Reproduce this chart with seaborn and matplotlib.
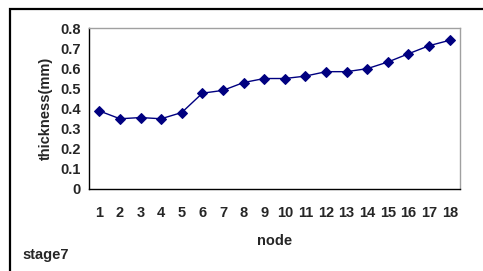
import numpy as np
import pandas as pd
import matplotlib
matplotlib.use("Agg")
import matplotlib.pyplot as plt
import seaborn as sns
from matplotlib.patches import Rectangle

# values
nodes = [str(i) for i in range(1, 19)]
thickness = [0.388, 0.349, 0.355, 0.349, 0.380, 0.476, 0.490, 0.529, 0.549,
             0.549, 0.561, 0.583, 0.583, 0.598, 0.631, 0.672, 0.712, 0.739]
yticks = [0, 0.1, 0.2, 0.3, 0.4, 0.5, 0.6, 0.7, 0.8]
ytick_labels = ["0", "0.1", "0.2", "0.3", "0.4", "0.5", "0.6", "0.7", "0.8"]

data = pd.DataFrame({"node": nodes, "thickness": thickness})

sns.set_style("white")
plt.rcParams["font.family"] = ["Liberation Sans", "DejaVu Sans"]
plt.rcParams["font.weight"] = "bold"
fs = 10.5

fig = plt.figure(figsize=(4.83, 2.71), dpi=100)
ax = fig.add_axes([89 / 483, 1 - 189 / 271, (460 - 89) / 483, (189 - 28) / 271])

sns.lineplot(data=data, x="node", y="thickness", ax=ax, sort=False,
             color="#000080", linewidth=1.0, marker="D", markersize=5.5,
             markeredgecolor="#000080", markerfacecolor="#000080")

ax.set_xlim(-0.5, 17.5)
ax.set_ylim(0, 0.8)
ax.set_yticks(yticks)
ax.set_yticklabels(ytick_labels)

# category ticks sit between the points
ax.set_xticks(np.arange(-0.5, 18, 1), minor=False)
ax.set_xticklabels([])
ax.set_xticks(np.arange(0, 18), minor=True)
ax.set_xticklabels(nodes, minor=True)
ax.tick_params(axis="x", which="major", direction="out", length=4, width=0.8, color="black")
ax.tick_params(axis="x", which="minor", length=0, pad=12, labelsize=fs)
ax.tick_params(axis="y", direction="out", length=4, width=0.8, color="black", labelsize=fs, pad=2)
for lab in ax.get_xticklabels(minor=True) + ax.get_yticklabels():
    lab.set_fontweight("bold")

ax.spines["left"].set_color("black")
ax.spines["bottom"].set_color("black")
ax.spines["top"].set_color("#a0a0a0")
ax.spines["right"].set_color("#a0a0a0")
for s in ax.spines.values():
    s.set_linewidth(1.0)

ax.set_xlabel("node", fontsize=fs, fontweight="bold", labelpad=10)
ax.set_ylabel("thickness(mm)", fontsize=fs, fontweight="bold", labelpad=5)

fig.text(22 / 483, 1 - 255 / 271, "stage7", fontsize=fs, fontweight="bold", va="center", ha="left")

# outer chart border (left and top visible)
fig.add_artist(Rectangle((10 / 483, -0.1), 1.2, 1 - 8.5 / 271 + 0.1,
                         transform=fig.transFigure, fill=False,
                         edgecolor="black", linewidth=1.6))

fig.savefig("out.png", dpi=100)
